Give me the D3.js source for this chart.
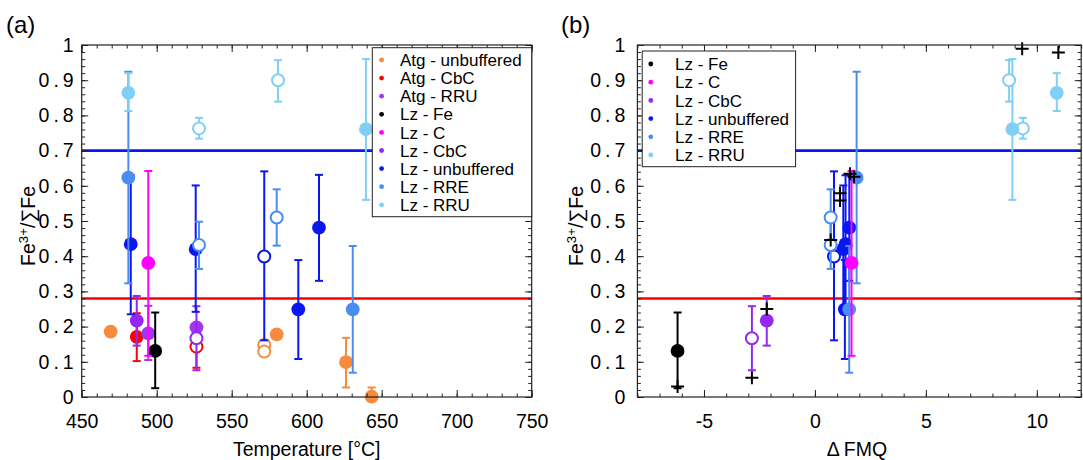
<!DOCTYPE html>
<html><head><meta charset="utf-8">
<script src="https://cdn.jsdelivr.net/npm/d3@7"></script>
<style>
body{margin:0;background:#fff}
svg{display:block}
text{font-family:"Liberation Sans",Arial,Helvetica,sans-serif;fill:#000}
</style>
</head><body>
<svg id="chart" width="1083" height="460"></svg>
<script>
// ---------------- DATA ----------------
const seriesNames = ["Atg - unbuffered","Atg - CbC","Atg - RRU","Lz - Fe","Lz - C","Lz - CbC","Lz - unbuffered","Lz - RRE","Lz - RRU"];
const rightLegendNames = ["Lz - Fe","Lz - C","Lz - CbC","Lz - unbuffered","Lz - RRE","Lz - RRU"];

// rows: [Temperature °C, ΔFMQ, Fe3+/ΣFe, error low, error high, open marker (1) / filled (0)]
const atgUnbuffered = [
  [469.3, null, 0.186, null, null, 0],
  [571.7, null, 0.148, null, null, 1],
  [571.7, null, 0.129, null, null, 1],
  [580.0, null, 0.178, null, null, 0],
  [626.2, null, 0.099, 0.027, 0.168, 0],
  [643.3, null, 0.001, 0.000, 0.027, 0]
];
const atgCbC = [
  [486.7, null, 0.171, 0.102, 0.238, 0],
  [526.5, null, 0.143, 0.083, 0.200, 1]
];
const atgRRU = [
  [494.4, null, 0.181, 0.105, 0.259, 0],
  [526.5, null, 0.198, null, null, 0]
];
const lzFe = [
  [499.0, -6.19, 0.131, 0.025, 0.240, 0]
];
const lzC = [
  [494.4, 1.65, 0.381, 0.117, 0.642, 0]
];
const lzCbC = [
  [486.7, -2.17, 0.217, 0.146, 0.287, 0],
  [526.5, -2.84, 0.167, 0.076, 0.258, 1]
];
const lzUnbuffered = [
  [482.7, 1.38, 0.434, 0.235, 0.630, 0],
  [526.0, 1.28, 0.420, 0.242, 0.601, 0],
  [571.7, 0.86, 0.399, 0.161, 0.641, 1],
  [594.4, 1.35, 0.249, 0.108, 0.389, 0],
  [608.2, 1.55, 0.481, 0.330, 0.631, 0]
];
const lzRRE = [
  [481.1, 1.88, 0.623, 0.323, 0.924, 0],
  [528.2, 0.71, 0.432, 0.364, 0.498, 1],
  [580.0, 0.71, 0.510, 0.430, 0.590, 1],
  [630.7, 1.545, 0.249, 0.069, 0.429, 0]
];
const lzRRU = [
  [481.1, 10.90, 0.864, 0.8125, 0.920, 0],
  [528.2, 9.37, 0.763, 0.734, 0.793, 1],
  [580.9, 8.75, 0.900, 0.839, 0.957, 1],
  [639.5, 8.90, 0.761, 0.560, 0.960, 0]
];
// model values shown as "+" in panel (b): [ΔFMQ, Fe3+/ΣFe]
const modelPlus = [
  [-6.19, 0.030], [-2.84, 0.055], [-2.17, 0.250], [0.71, 0.446],
  [1.13, 0.579], [1.13, 0.558], [1.58, 0.634], [1.76, 0.626],
  [9.34, 0.989], [10.97, 0.979]
];
const refLineValues = [0.70, 0.28];
const yTickLabels = [0,0.1,0.2,0.3,0.4,0.5,0.6,0.7,0.8,0.9,1];
const xTicksLeft = [450,500,550,600,650,700,750];
const xTicksRight = [-5,0,5,10];

// ---------------- STYLES ----------------
const seriesColors = {
  "Atg - unbuffered":"#f68b3d","Atg - CbC":"#ff0000","Atg - RRU":"#a335f2",
  "Lz - Fe":"#000000","Lz - C":"#ff00ff","Lz - CbC":"#9428f0",
  "Lz - unbuffered":"#0b17f2","Lz - RRE":"#4b8cf0","Lz - RRU":"#80cff5"
};
const seriesData = {
  "Atg - unbuffered":atgUnbuffered,"Atg - CbC":atgCbC,"Atg - RRU":atgRRU,
  "Lz - Fe":lzFe,"Lz - C":lzC,"Lz - CbC":lzCbC,"Lz - unbuffered":lzUnbuffered,
  "Lz - RRE":lzRRE,"Lz - RRU":lzRRU
};
const refLineColors = ["#0b17f2","#ff0000"];
const FONT = 19.5;

const svg = d3.select("#chart");

const y = d3.scaleLinear().domain([0,1]).range([397,45]);
const xL = d3.scaleLinear().domain([450,750]).range([81.7,531.7]);
const xR = d3.scaleLinear().domain([-8,12]).range([637.4,1081.2]);

// y tick labels: wide decimal point like the reference
function spacedLabels(sel) {
  sel.selectAll(".tick text").each(function(d){
    const t = d3.select(this); const s = String(d);
    t.text(null).attr("font-size",FONT);
    if (s.includes(".")) {
      const [a,b] = s.split(".");
      t.append("tspan").text(a);
      t.append("tspan").attr("dx",4).text(".");
      t.append("tspan").attr("dx",4).text(b);
    } else t.append("tspan").text(s);
  });
}

function frame(g, x, xMajor, xMinor, yLabelPad) {
  const [x0,x1] = x.range(); const [y0,y1] = y.range();
  const yMinor = d3.range(0,1.0001,0.02).map(v=>+v.toFixed(2));
  const noDomain = s=>s.select(".domain").remove();
  g.append("g").attr("transform",`translate(0,${y0})`)
    .call(d3.axisBottom(x).tickValues(xMinor).tickSize(-3.5).tickFormat("")).call(noDomain);
  g.append("g").attr("transform",`translate(0,${y1})`)
    .call(d3.axisTop(x).tickValues(xMinor).tickSize(-3.5).tickFormat("")).call(noDomain);
  g.append("g").attr("transform",`translate(${x0},0)`)
    .call(d3.axisLeft(y).tickValues(yMinor).tickSize(-3.5).tickFormat("")).call(noDomain);
  g.append("g").attr("transform",`translate(${x1},0)`)
    .call(d3.axisRight(y).tickValues(yMinor).tickSize(-3.5).tickFormat("")).call(noDomain);
  g.append("g").attr("transform",`translate(0,${y0})`)
    .call(d3.axisBottom(x).tickValues(xMajor).tickSize(-7).tickPadding(17).tickFormat(d=>String(d)))
    .call(noDomain)
    .call(s=>s.selectAll("text").attr("font-size",FONT));
  g.append("g").attr("transform",`translate(0,${y1})`)
    .call(d3.axisTop(x).tickValues(xMajor).tickSize(-7).tickFormat("")).call(noDomain);
  g.append("g").attr("transform",`translate(${x0},0)`)
    .call(d3.axisLeft(y).tickValues(yTickLabels).tickSize(-6.5).tickPadding(yLabelPad).tickFormat(d=>String(d)))
    .call(noDomain).call(spacedLabels);
  g.append("g").attr("transform",`translate(${x1},0)`)
    .call(d3.axisRight(y).tickValues(yTickLabels).tickSize(-6.5).tickFormat("")).call(noDomain);
  g.selectAll(".tick line").attr("stroke","#222").attr("stroke-width",1);
  g.selectAll("g").attr("font-family",null);
  g.append("rect").attr("x",x0).attr("y",y1).attr("width",x1-x0).attr("height",y0-y1)
    .attr("fill","none").attr("stroke","#222").attr("stroke-width",1.2);
}

function refLines(g, x) {
  refLineValues.forEach((v,i)=>{
    g.append("line").attr("x1",x.range()[0]).attr("x2",x.range()[1])
      .attr("y1",y(v)).attr("y2",y(v))
      .attr("stroke",refLineColors[i]).attr("stroke-width",2.6);
  });
}

function drawSeries(g, x, name, xi) {
  const col = seriesColors[name];
  const rows = seriesData[name].filter(r=>r[xi]!==null);
  const gg = g.append("g");
  rows.forEach(r=>{
    const px = x(r[xi]);
    if (r[3]!==null) {
      gg.append("line").attr("x1",px).attr("x2",px).attr("y1",y(r[3])).attr("y2",y(r[4]))
        .attr("stroke",col).attr("stroke-width",2);
      [r[3],r[4]].forEach(e=>{
        gg.append("line").attr("x1",px-4).attr("x2",px+4).attr("y1",y(e)).attr("y2",y(e))
          .attr("stroke",col).attr("stroke-width",2);
      });
    }
  });
  rows.forEach(r=>{
    const px = x(r[xi]);
    if (r[5]) {
      gg.append("circle").attr("cx",px).attr("cy",y(r[2])).attr("r",6)
        .attr("fill","#fff").attr("stroke",col).attr("stroke-width",2);
    } else {
      gg.append("circle").attr("cx",px).attr("cy",y(r[2])).attr("r",6.9).attr("fill",col);
    }
  });
}

function legend(g, names, bx, by, bw, bh, dotX, textX, row0, dy) {
  g.append("rect").attr("x",bx).attr("y",by).attr("width",bw).attr("height",bh)
    .attr("fill","#fff").attr("stroke","#222").attr("stroke-width",1);
  names.forEach((n,i)=>{
    const cy = row0 + i*dy;
    g.append("circle").attr("cx",dotX).attr("cy",cy).attr("r",2.4).attr("fill",seriesColors[n]);
    g.append("text").attr("x",textX).attr("y",cy).attr("dy","0.36em").attr("font-size",17).text(n);
  });
}

function yTitle(g, xBase, yc) {
  const t = g.append("text").attr("transform",`translate(${xBase},${yc}) rotate(-90)`)
    .attr("text-anchor","middle").attr("font-size",FONT);
  t.append("tspan").text("Fe");
  t.append("tspan").attr("baseline-shift","super").attr("font-size",FONT*0.68).text("3+");
  t.append("tspan").text("/\u2211Fe");
}

// -------- Panel (a) --------
const gA = svg.append("g");
refLines(gA, xL);
seriesNames.forEach(n=>drawSeries(gA, xL, n, 0));
frame(gA, xL, xTicksLeft, d3.range(450,751,10), 8);
legend(gA, seriesNames, 372.3, 47.7, 159.4, 169, 381.6, 400, 60, 18.1);
gA.append("text").attr("x",306.7).attr("y",456).attr("text-anchor","middle").attr("font-size",FONT).text("Temperature [°C]");
yTitle(gA, 34.5, 226);
gA.append("text").attr("x",6).attr("y",33).attr("font-size",24).text("(a)");

// -------- Panel (b) --------
const gB = svg.append("g");
refLines(gB, xR);
["Lz - Fe","Lz - CbC","Lz - unbuffered","Lz - RRE","Lz - C","Lz - RRU"].forEach(n=>drawSeries(gB, xR, n, 1));
const plusG = gB.append("g");
modelPlus.forEach(p=>{
  const px = xR(p[0]), py = y(p[1]);
  plusG.append("path").attr("d",`M${px-6.5},${py}H${px+6.5}M${px},${py-6.5}V${py+6.5}`)
    .attr("stroke","#000").attr("stroke-width",2).attr("fill","none");
});
frame(gB, xR, xTicksRight, d3.range(-8,12.01,1), 12);
legend(gB, rightLegendNames, 642.2, 51, 153.4, 115.7, 650.8, 675, 64, 18.2);
gB.append("text").attr("x",857).attr("y",456).attr("text-anchor","middle").attr("font-size",FONT).text("\u0394\u2009FMQ");
yTitle(gB, 583, 226);
gB.append("text").attr("x",561).attr("y",33).attr("font-size",24).text("(b)");
</script>
</body></html>
